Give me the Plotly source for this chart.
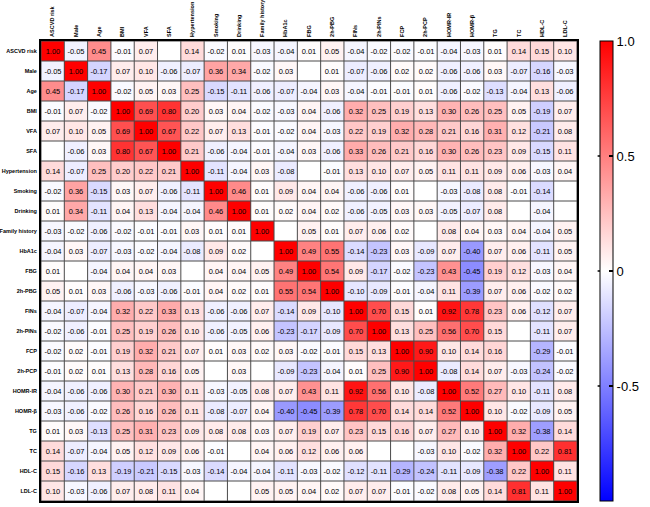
import plotly.graph_objects as go

labels = ["ASCVD risk", "Male", "Age", "BMI", "VFA", "SFA", "Hypertension", "Smoking",
          "Drinking", "Family history", "HbA1c", "FBG", "2h-PBG", "FINs", "2h-PINs", "FCP",
          "2h-PCP", "HOMR-IR", "HOMR-β", "TG", "TC", "HDL-C", "LDL-C"]

N = None
r_ascvd = [1.00, -0.05, 0.45, -0.01, 0.07, N, 0.14, -0.02, 0.01, -0.03, -0.04, 0.01, 0.05, -0.04, -0.02, -0.02, -0.01, -0.04, -0.03, 0.01, 0.14, 0.15, 0.10]
r_male = [-0.05, 1.00, -0.17, 0.07, 0.10, -0.06, -0.07, 0.36, 0.34, -0.02, 0.03, N, 0.01, -0.07, -0.06, 0.02, 0.02, -0.06, -0.06, 0.03, -0.07, -0.16, -0.03]
r_age = [0.45, -0.17, 1.00, -0.02, 0.05, 0.03, 0.25, -0.15, -0.11, -0.06, -0.07, -0.04, 0.03, -0.04, -0.01, -0.01, 0.01, -0.06, -0.02, -0.13, -0.04, 0.13, -0.06]
r_bmi = [-0.01, 0.07, -0.02, 1.00, 0.69, 0.80, 0.20, 0.03, 0.04, -0.02, -0.03, 0.04, -0.06, 0.32, 0.25, 0.19, 0.13, 0.30, 0.26, 0.25, 0.05, -0.19, 0.07]
r_vfa = [0.07, 0.10, 0.05, 0.69, 1.00, 0.67, 0.22, 0.07, 0.13, -0.01, -0.02, 0.04, -0.03, 0.22, 0.19, 0.32, 0.28, 0.21, 0.16, 0.31, 0.12, -0.21, 0.08]
r_sfa = [N, -0.06, 0.03, 0.80, 0.67, 1.00, 0.21, -0.06, -0.04, -0.01, -0.04, 0.03, -0.06, 0.33, 0.26, 0.21, 0.16, 0.30, 0.26, 0.23, 0.09, -0.15, 0.11]
r_hyper = [0.14, -0.07, 0.25, 0.20, 0.22, 0.21, 1.00, -0.11, -0.04, 0.03, -0.08, N, -0.01, 0.13, 0.10, 0.07, 0.05, 0.11, 0.11, 0.09, 0.06, -0.03, 0.04]
r_smoke = [-0.02, 0.36, -0.15, 0.03, 0.07, -0.06, -0.11, 1.00, 0.46, 0.01, 0.09, 0.04, 0.04, -0.06, -0.06, 0.01, N, -0.03, -0.08, 0.08, -0.01, -0.14, N]
r_drink = [0.01, 0.34, -0.11, 0.04, 0.13, -0.04, -0.04, 0.46, 1.00, 0.01, 0.02, 0.04, 0.02, -0.06, -0.05, 0.03, 0.03, -0.05, -0.07, 0.08, N, -0.04, N]
r_family = [-0.03, -0.02, -0.06, -0.02, -0.01, -0.01, 0.03, 0.01, 0.01, 1.00, N, 0.05, 0.01, 0.07, 0.06, 0.02, N, 0.08, 0.04, 0.03, 0.04, -0.04, 0.05]
r_hba1c = [-0.04, 0.03, -0.07, -0.03, -0.02, -0.04, -0.08, 0.09, 0.02, N, 1.00, 0.49, 0.55, -0.14, -0.23, 0.03, -0.09, 0.07, -0.40, 0.07, 0.06, -0.11, 0.05]
r_fbg = [0.01, N, -0.04, 0.04, 0.04, 0.03, N, 0.04, 0.04, 0.05, 0.49, 1.00, 0.54, 0.09, -0.17, -0.02, -0.23, 0.43, -0.45, 0.19, 0.12, -0.03, 0.04]
r_2hpbg = [0.05, 0.01, 0.03, -0.06, -0.03, -0.06, -0.01, 0.04, 0.02, 0.01, 0.55, 0.54, 1.00, -0.10, -0.09, -0.01, -0.04, 0.11, -0.39, 0.07, 0.06, -0.02, 0.02]
r_fins = [-0.04, -0.07, -0.04, 0.32, 0.22, 0.33, 0.13, -0.06, -0.06, 0.07, -0.14, 0.09, -0.10, 1.00, 0.70, 0.15, 0.01, 0.92, 0.78, 0.23, 0.06, -0.12, 0.07]
r_2hpins = [-0.02, -0.06, -0.01, 0.25, 0.19, 0.26, 0.10, -0.06, -0.05, 0.06, -0.23, -0.17, -0.09, 0.70, 1.00, 0.13, 0.25, 0.56, 0.70, 0.15, N, -0.11, 0.07]
r_fcp = [-0.02, 0.02, -0.01, 0.19, 0.32, 0.21, 0.07, 0.01, 0.03, 0.02, 0.03, -0.02, -0.01, 0.15, 0.13, 1.00, 0.90, 0.10, 0.14, 0.16, N, -0.29, -0.01]
r_2hpcp = [-0.01, 0.02, 0.01, 0.13, 0.28, 0.16, 0.05, N, 0.03, N, -0.09, -0.23, -0.04, 0.01, 0.25, 0.90, 1.00, -0.08, 0.14, 0.07, -0.03, -0.24, -0.02]
r_homrir = [-0.04, -0.06, -0.06, 0.30, 0.21, 0.30, 0.11, -0.03, -0.05, 0.08, 0.07, 0.43, 0.11, 0.92, 0.56, 0.10, -0.08, 1.00, 0.52, 0.27, 0.10, -0.11, 0.08]
r_homrb = [-0.03, -0.06, -0.02, 0.26, 0.16, 0.26, 0.11, -0.08, -0.07, 0.04, -0.40, -0.45, -0.39, 0.78, 0.70, 0.14, 0.14, 0.52, 1.00, 0.10, -0.02, -0.09, 0.05]
r_tg = [0.01, 0.03, -0.13, 0.25, 0.31, 0.23, 0.09, 0.08, 0.08, 0.03, 0.07, 0.19, 0.07, 0.23, 0.15, 0.16, 0.07, 0.27, 0.10, 1.00, 0.32, -0.38, 0.14]
r_tc = [0.14, -0.07, -0.04, 0.05, 0.12, 0.09, 0.06, -0.01, N, 0.04, 0.06, 0.12, 0.06, 0.06, N, N, -0.03, 0.10, -0.02, 0.32, 1.00, 0.22, 0.81]
r_hdl = [0.15, -0.16, 0.13, -0.19, -0.21, -0.15, -0.03, -0.14, -0.04, -0.04, -0.11, -0.03, -0.02, -0.12, -0.11, -0.29, -0.24, -0.11, -0.09, -0.38, 0.22, 1.00, 0.11]
r_ldl = [0.10, -0.03, -0.06, 0.07, 0.08, 0.11, 0.04, N, N, 0.05, 0.05, 0.04, 0.02, 0.07, 0.07, -0.01, -0.02, 0.08, 0.05, 0.14, 0.81, 0.11, 1.00]

matrix = [r_ascvd, r_male, r_age, r_bmi, r_vfa, r_sfa, r_hyper, r_smoke, r_drink, r_family,
          r_hba1c, r_fbg, r_2hpbg, r_fins, r_2hpins, r_fcp, r_2hpcp, r_homrir, r_homrb,
          r_tg, r_tc, r_hdl, r_ldl]

cbar_vals = [-1.0, -0.5, 0.0, 0.5, 1.0]
cbar_text = ["-1.0", "-0.5", "0", "0.5", "1.0"]

n = len(labels)
idx = list(range(n))
text = [["" if v is None else f"{v:.2f}" for v in row] for row in matrix]

FONT = "Liberation Sans, Arial, sans-serif"
L, R, T, B = 41, 63, 41, 6
W, H = 650, 507
pw = W - L - R
cb_left = (610 - L) / pw

fig = go.Figure(go.Heatmap(
    z=matrix, x=idx, y=idx, text=text, texttemplate="%{text}",
    textfont=dict(family=FONT, size=7.5, color="black"),
    zmin=-1, zmax=1,
    colorscale=[[0, "rgb(0,0,255)"], [0.5, "rgb(255,255,255)"], [1, "rgb(255,0,0)"]],
    colorbar=dict(
        x=cb_left, xanchor="left", y=0.5, yanchor="middle", len=1,
        thickness=13, xpad=0, ypad=0, outlinewidth=1, outlinecolor="black",
        tickvals=cbar_vals, ticktext=cbar_text, ticks="inside", ticklen=4,
        tickcolor="black", tickwidth=1.5,
        tickfont=dict(family=FONT, size=13, color="black"),
    ),
    hoverongaps=False,
))

shapes = []
for k in range(n + 1):
    b = k - 0.5
    shapes.append(dict(type="line", xref="x", yref="y", x0=b, x1=b, y0=-0.5, y1=n - 0.5,
                       line=dict(color="#4a4a4a", width=1), layer="above"))
    shapes.append(dict(type="line", xref="x", yref="y", y0=b, y1=b, x0=-0.5, x1=n - 0.5,
                       line=dict(color="#4a4a4a", width=1), layer="above"))
# left-side tick dashes on the colour bar
for v in cbar_vals[1:-1]:
    yp = (v + 1) / 2
    shapes.append(dict(type="line", xref="paper", yref="paper",
                       x0=cb_left - 2 / pw, x1=cb_left + 3 / pw, y0=yp, y1=yp,
                       line=dict(color="black", width=1.5)))

fig.update_layout(
    width=W, height=H, autosize=False,
    margin=dict(l=L, r=R, t=T, b=B),
    paper_bgcolor="white", plot_bgcolor="white",
    shapes=shapes,
    xaxis=dict(tickvals=idx, ticktext=labels, side="top", tickangle=-90,
               range=[-0.5, n - 0.5], showgrid=False, zeroline=False, ticks="",
               showline=True, mirror=True, linecolor="black", linewidth=2,
               automargin=False,
               tickfont=dict(family=FONT, size=5.5, color="black", weight="bold"),
               ticklabelstandoff=1),
    yaxis=dict(tickvals=idx, ticktext=labels, range=[n - 0.5, -0.5],
               showgrid=False, zeroline=False, ticks="",
               showline=True, mirror=True, linecolor="black", linewidth=2,
               automargin=False,
               tickfont=dict(family=FONT, size=5.5, color="black", weight="bold"),
               ticklabelstandoff=1),
)

# remove the default page margin so the 650x507 figure fills the window exactly
fig.write_html("out.html", config={"displayModeBar": False},
               post_script="document.body.style.margin='0px';")
